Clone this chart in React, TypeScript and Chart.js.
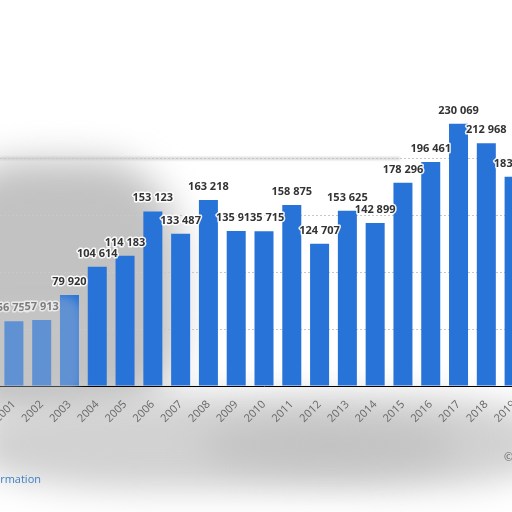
import React, { useEffect, useRef } from 'react';
import Chart from 'chart.js/auto';

const years = [
    '2001', '2002', '2003', '2004', '2005', '2006', '2007', '2008', '2009', '2010',
    '2011', '2012', '2013', '2014', '2015', '2016', '2017', '2018', '2019',
];
const values = [
    56759, 57913, 79920, 104614, 114183, 153123, 133487, 163218, 135913, 135715,
    158875, 124707, 153625, 142899, 178296, 196461, 230069, 212968, 183512,
];
const yTicks = [0, 50000, 100000, 150000, 200000, 250000];

const fmt = (v: number) => v.toString().replace(/\B(?=(\d{3})+(?!\d))/g, ' ');

const valueLabels = {
    id: 'valueLabels',
    afterDatasetsDraw(chart: any) {
        const ctx = chart.ctx;
        const meta = chart.getDatasetMeta(0);
        ctx.save();
        ctx.font = 'bold 11px "Open Sans", sans-serif';
        ctx.textAlign = 'center';
        ctx.textBaseline = 'alphabetic';
        ctx.lineJoin = 'round';
        meta.data.forEach((bar: any, i: number) => {
            const text = fmt(values[i]);
            const y = bar.y - 10;
            ctx.strokeStyle = 'rgba(255,255,255,0.9)';
            ctx.lineWidth = 3;
            ctx.strokeText(text, bar.x, y);
            ctx.fillStyle = i < 2 ? '#555' : '#333';
            ctx.fillText(text, bar.x, y);
        });
        ctx.restore();
    },
};

const BarChart: React.FC = () => {
    const chartRef = useRef<HTMLCanvasElement | null>(null);

    useEffect(() => {
        if (!chartRef.current) return;
        const myChart = new Chart(chartRef.current, {
            type: 'bar',
            data: {
                labels: years,
                datasets: [
                    {
                        data: values,
                        backgroundColor: '#2873d8',
                        barPercentage: 0.684,
                        categoryPercentage: 1,
                    },
                ],
            },
            options: {
                responsive: false,
                animation: false,
                devicePixelRatio: 1,
                layout: { padding: { top: 101, left: 0, right: 0, bottom: 0 } },
                plugins: { legend: { display: false }, tooltip: { enabled: false } },
                scales: {
                    x: {
                        grid: { display: false, drawTicks: false },
                        border: { display: true, color: '#000', width: 1 },
                        ticks: {
                            color: '#666',
                            font: { size: 11, family: '"Open Sans", sans-serif' },
                            minRotation: 45,
                            maxRotation: 45,
                            autoSkip: false,
                            padding: 12,
                        },
                        afterFit(scale: any) {
                            scale.height = 126;
                            scale.paddingLeft = 0;
                            scale.paddingRight = 0;
                        },
                    },
                    y: {
                        min: 0,
                        max: 250000,
                        afterBuildTicks(scale: any) {
                            scale.ticks = yTicks.map((v) => ({ value: v }));
                        },
                        ticks: { display: false },
                        grid: {
                            drawTicks: false,
                            color: (c: any) => (c.tick && c.tick.value > 0 && c.tick.value < 250000 ? '#c8c8c8' : 'rgba(0,0,0,0)'),
                        },
                        border: { display: false, dash: [2, 2] },
                        afterFit(scale: any) {
                            scale.width = 0;
                            scale.paddingTop = 0;
                            scale.paddingBottom = 0;
                        },
                    },
                },
            },
            plugins: [valueLabels],
        });
        return () => {
            myChart.destroy();
        };
    }, []);

    return <canvas ref={chartRef} width={528} height={512} style={{ position: 'absolute', left: 0, top: 0 }} />;
};

const App: React.FC = () => {
    return (
        <div
            style={{
                position: 'fixed',
                left: 0,
                top: 0,
                width: 512,
                height: 512,
                overflow: 'hidden',
                background: '#fff',
                fontFamily: '"Open Sans", sans-serif',
            }}
        >
            {/* grey haze behind the chart */}
            <div style={{ position: 'absolute', left: 0, top: 157, width: 400, height: 3, background: '#d8d8d8', filter: 'blur(1px)' }} />
            <div style={{ position: 'absolute', left: -60, top: 160, width: 240, height: 260, background: '#c2c2c2', filter: 'blur(18px)', borderRadius: '35%' }} />
            <div style={{ position: 'absolute', left: -20, top: 395, width: 560, height: 95, background: '#d2d2d2', filter: 'blur(16px)', borderRadius: '30%' }} />
            <div style={{ position: 'absolute', left: 200, top: 420, width: 260, height: 50, background: '#c2c2c2', filter: 'blur(16px)', borderRadius: '50%' }} />
            <BarChart />
            {/* washed-out first bars */}
            <div style={{ position: 'absolute', left: -10, top: 296, width: 92, height: 100, background: 'rgba(200,200,200,0.35)', filter: 'blur(4px)', borderRadius: 20 }} />
            <div style={{ position: 'absolute', right: 471, top: 471, fontSize: 11, color: '#3d7fc3', whiteSpace: 'nowrap' }}>Additional Information</div>
            <div style={{ position: 'absolute', left: 504, top: 449, fontSize: 11, color: '#666', whiteSpace: 'nowrap' }}>© Statista 2021</div>
        </div>
    );
};

export default App;
